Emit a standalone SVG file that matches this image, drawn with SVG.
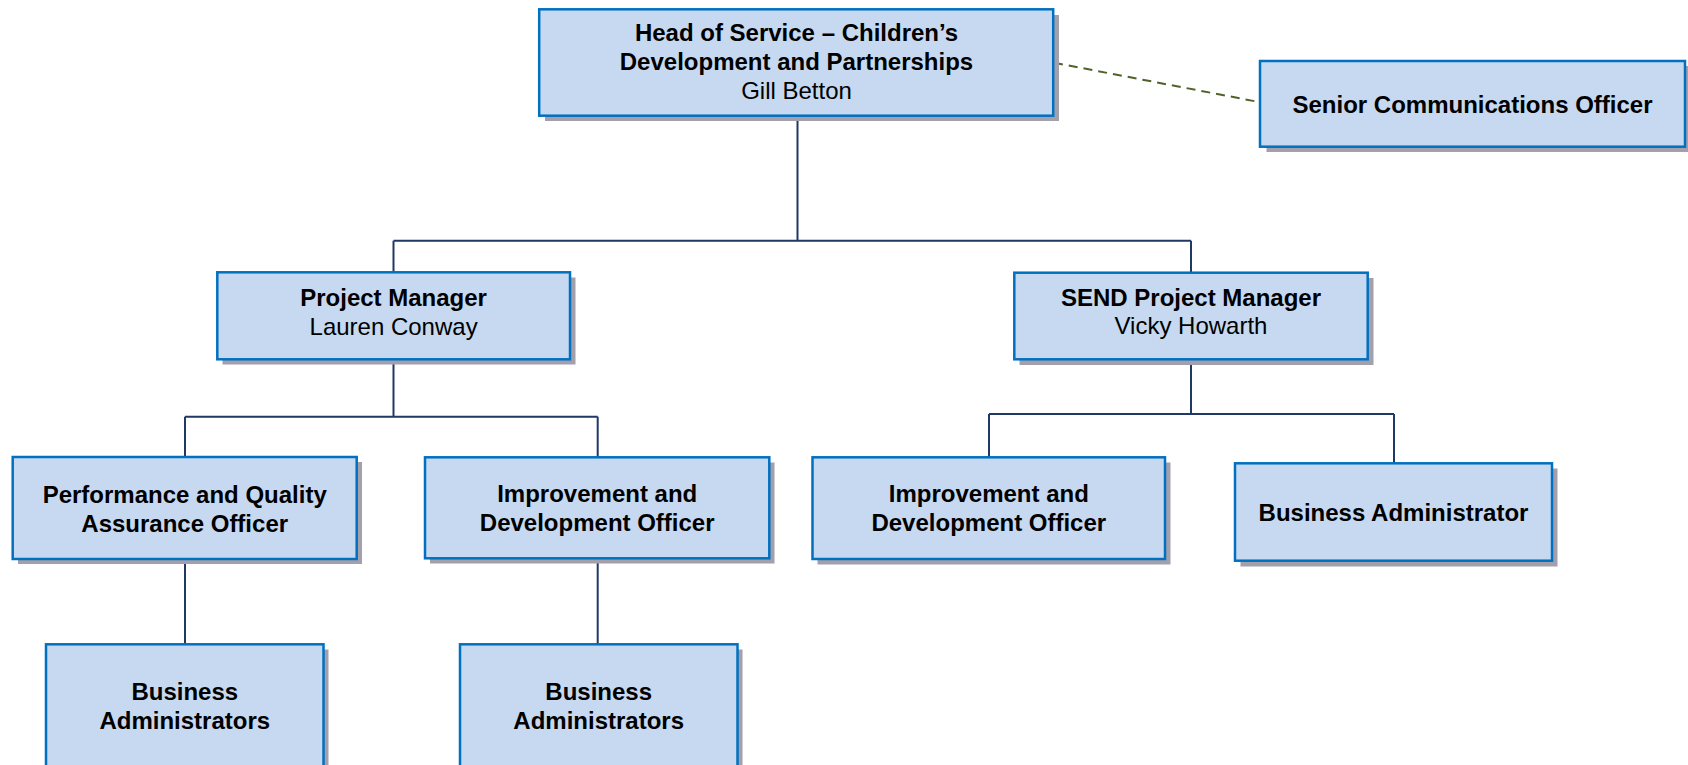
<svg xmlns="http://www.w3.org/2000/svg" width="1688" height="765" viewBox="0 0 1688 765">
<style>
.sh{fill:#a39fab;}
.bx{fill:#c6d9f1;stroke:#0070c0;stroke-width:2.5;}
.t{font-family:"Liberation Sans",Arial,sans-serif;font-size:24px;fill:#000;text-anchor:middle;}
.b{font-weight:bold;}
.ln{fill:none;stroke:#1f3864;stroke-width:2;}
.dash{fill:none;stroke:#4f6228;stroke-width:2;stroke-dasharray:9 6;}
</style>
<rect width="1688" height="765" fill="#fff"/>
<g id="connectors">
<path class="ln" d="M797.5,116 V240.7 M393.5,240.7 H1191 M393.5,240.7 V272 M1191,240.7 V272"/>
<path class="ln" d="M393.5,359 V416.7 M185,416.7 H597.7 M185,416.7 V457 M597.7,416.7 V457"/>
<path class="ln" d="M185,559 V644 M597.7,558 V644"/>
<path class="ln" d="M1191,359 V414 M989,414 H1394 M989,414 V457 M1394,414 V463"/>
<path class="dash" d="M1054,62.7 L1259,102"/>
</g>
<g id="head">
<rect class="sh" x="545" y="15" width="514" height="106"/>
<rect class="bx" x="539.2" y="9.3" width="514" height="106.4"/>
<text class="t b" x="796.5" y="40.5">Head of Service – Children’s</text>
<text class="t b" x="796.5" y="69.5">Development and Partnerships</text>
<text class="t" x="796.5" y="98.5">Gill Betton</text>
</g>
<g id="comms">
<rect class="sh" x="1266.5" y="66" width="426" height="86"/>
<rect class="bx" x="1260" y="61" width="425" height="85.7"/>
<text class="t b" x="1472.5" y="112.5">Senior Communications Officer</text>
</g>
<g id="pm">
<rect class="sh" x="222.5" y="277.5" width="353" height="87"/>
<rect class="bx" x="217.3" y="272.3" width="352.7" height="87"/>
<text class="t b" x="393.6" y="306">Project Manager</text>
<text class="t" x="393.6" y="334.5">Lauren Conway</text>
</g>
<g id="sendpm">
<rect class="sh" x="1019.5" y="278" width="354" height="87"/>
<rect class="bx" x="1014.3" y="272.7" width="353.4" height="86.6"/>
<text class="t b" x="1191" y="305.5">SEND Project Manager</text>
<text class="t" x="1191" y="333.5">Vicky Howarth</text>
</g>
<g id="pqa">
<rect class="sh" x="18" y="462" width="344" height="102"/>
<rect class="bx" x="12.7" y="457" width="344" height="102"/>
<text class="t b" x="184.7" y="502.7">Performance and Quality</text>
<text class="t b" x="184.7" y="531.7">Assurance Officer</text>
</g>
<g id="ido1">
<rect class="sh" x="430" y="462.5" width="344.5" height="101"/>
<rect class="bx" x="425" y="457.3" width="344.3" height="101"/>
<text class="t b" x="597.2" y="502">Improvement and</text>
<text class="t b" x="597.2" y="531">Development Officer</text>
</g>
<g id="ido2">
<rect class="sh" x="817.5" y="462.5" width="353" height="102"/>
<rect class="bx" x="812.5" y="457.3" width="352.5" height="101.7"/>
<text class="t b" x="988.8" y="502">Improvement and</text>
<text class="t b" x="988.8" y="531">Development Officer</text>
</g>
<g id="ba">
<rect class="sh" x="1240.5" y="468.5" width="317" height="98"/>
<rect class="bx" x="1235" y="463.3" width="317" height="97.4"/>
<text class="t b" x="1393.5" y="520.5">Business Administrator</text>
</g>
<g id="ba1">
<rect class="sh" x="51" y="649.5" width="277.5" height="130"/>
<rect class="bx" x="46" y="644.3" width="277.5" height="130"/>
<text class="t b" x="184.8" y="700">Business</text>
<text class="t b" x="184.8" y="729">Administrators</text>
</g>
<g id="ba2">
<rect class="sh" x="465" y="649.5" width="277.5" height="130"/>
<rect class="bx" x="460" y="644.3" width="277.5" height="130"/>
<text class="t b" x="598.7" y="700">Business</text>
<text class="t b" x="598.7" y="729">Administrators</text>
</g>
</svg>
